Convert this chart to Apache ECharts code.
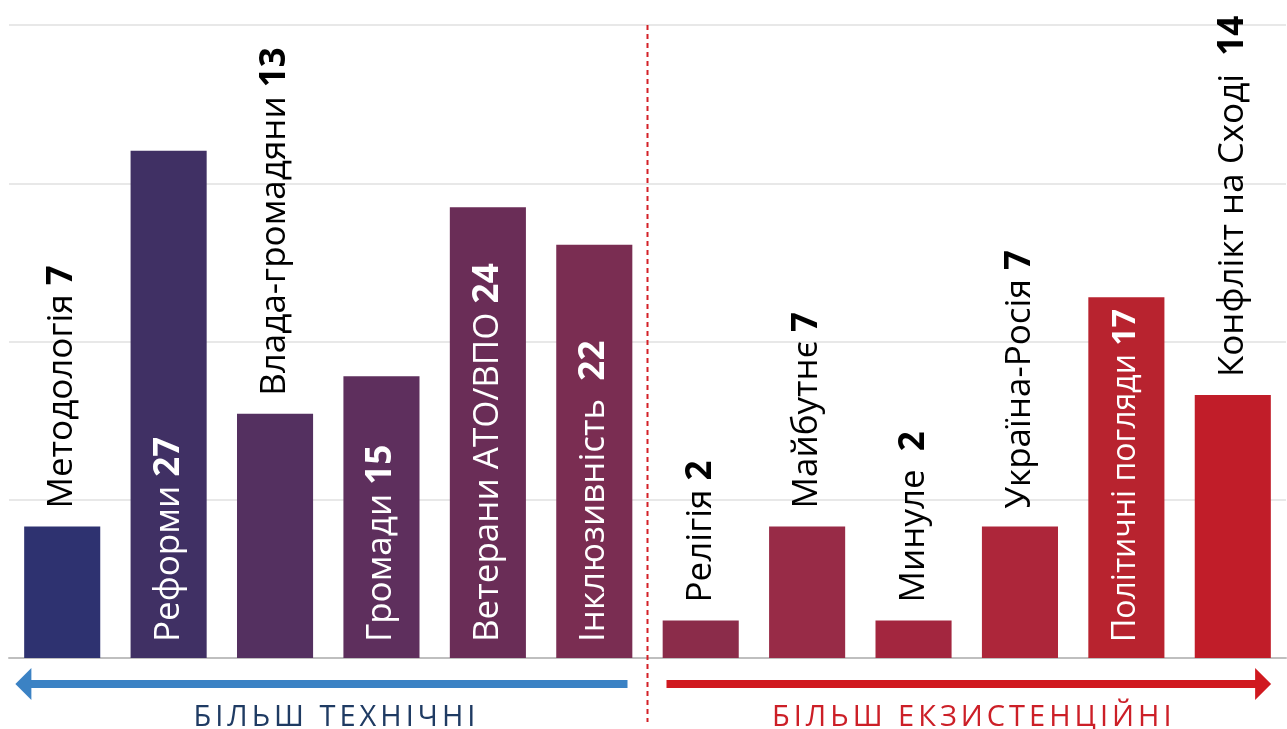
<!DOCTYPE html>
<html>
<head>
<meta charset="utf-8">
<script src="https://cdn.jsdelivr.net/npm/echarts@6/dist/echarts.min.js"></script>
<style>
  html, body { margin: 0; padding: 0; background: #fff; }
  #wrap { position: relative; width: 1287px; height: 729px; }
  #chart { position: absolute; left: 0; top: 0; width: 1287px; height: 729px; }
  .cap { position: absolute; top: 698px; font-family: "Open Sans", sans-serif; font-size: 29px;
         letter-spacing: 4px; white-space: nowrap; transform: translateX(-50%); line-height: 34px; }
</style>
</head>
<body>
<div id="wrap">
  <div id="chart"></div>
  <div class="cap" id="capLeft" style="color:#1f3b63"></div>
  <div class="cap" id="capRight" style="color:#cc1f27"></div>
</div>
<script>
// ---- data ----
const categories = ["Методологія", "Реформи", "Влада-громадяни", "Громади", "Ветерани АТО/ВПО", "Інклюзивність",
                    "Релігія", "Майбутнє", "Минуле", "Україна-Росія", "Політичні погляди", "Конфлікт на Сході"];
const barValues = [7, 27, 13, 15, 24, 22, 2, 7, 2, 7, 19.2, 14];
const shownNumbers = ["7", "27", "13", "15", "24", "22", "2", "7", "2", "7", "17", "14"];
const nameSeparators = [" ", " ", " ", " ", " ", "  ", " ", " ", "  ", " ", " ", "  "];
const groupLabels = ["БІЛЬШ ТЕХНІЧНІ", "БІЛЬШ ЕКЗИСТЕНЦІЙНІ"];
const yTicks = [0, 8.425, 16.85, 25.275, 33.7];

// ---- style ----
const barColors = ["#2e3270", "#403064", "#543060", "#5e2f5d", "#6a2d57", "#7a2d52",
                   "#8b2c4a", "#982b47", "#a3263f", "#ad263a", "#b8232f", "#c11d29"];
const labelInside = [false, true, false, true, true, true, false, false, false, false, true, false];
const labelFontSizes = [35, 35, 35, 35, 35, 35, 35, 35, 35, 35, 32, 35];

document.getElementById('capLeft').textContent = groupLabels[0];
document.getElementById('capRight').textContent = groupLabels[1];

const chart = echarts.init(document.getElementById('chart'), null, { renderer: 'canvas' });

const data = barValues.map((v, i) => {
  const inside = labelInside[i];
  const fs = labelFontSizes[i];
  return {
    value: v,
    itemStyle: { color: barColors[i] },
    label: {
      show: true,
      rotate: 90,
      align: 'left',
      verticalAlign: 'middle',
      position: inside ? 'insideBottom' : 'top',
      distance: inside ? 16 : 18,
      overflow: 'none',
      formatter: '{n|' + categories[i] + nameSeparators[i] + '}{v|' + shownNumbers[i] + '}',
      rich: {
        n: { fontFamily: 'Open Sans', fontSize: fs, color: inside ? '#ffffff' : '#000000', fontWeight: 'normal' },
        v: { fontFamily: 'Open Sans', fontSize: fs, color: inside ? '#ffffff' : '#000000', fontWeight: 'bold' }
      }
    }
  };
});

chart.setOption({
  animation: false,
  grid: { left: 9, right: 1, top: 25, bottom: 71, containLabel: false },
  xAxis: {
    type: 'category',
    data: categories,
    axisLine: { show: true, lineStyle: { color: '#bfbfbf', width: 2 } },
    axisTick: { show: false },
    axisLabel: { show: false }
  },
  yAxis: {
    type: 'value',
    min: yTicks[0],
    max: yTicks[yTicks.length - 1],
    interval: yTicks[1] - yTicks[0],
    axisLine: { show: false },
    axisTick: { show: false },
    axisLabel: { show: false },
    splitLine: { show: true, lineStyle: { color: '#e0e0e0', width: 1.5 } }
  },
  series: [{
    type: 'bar',
    data: data,
    barCategoryGap: '28.5%',
    labelLayout: { hideOverlap: false },
    z: 3
  }]
});

function drawDecor() {
  const p5 = chart.convertToPixel({ xAxisIndex: 0 }, 5);
  const p6 = chart.convertToPixel({ xAxisIndex: 0 }, 6);
  const p0 = chart.convertToPixel({ xAxisIndex: 0 }, 0);
  const p11 = chart.convertToPixel({ xAxisIndex: 0 }, 11);
  const top = chart.convertToPixel({ yAxisIndex: 0 }, yTicks[yTicks.length - 1]);
  const base = chart.convertToPixel({ yAxisIndex: 0 }, 0);
  const mid = (p5 + p6) / 2;
  const step = p6 - p5;
  const ay = base + 26;
  const leftTip = p0 - step * 0.44;
  const rightTip = p11 + step * 0.36;
  const leftEnd = mid - 20;
  const rightStart = mid + 19;
  chart.setOption({
    graphic: [
      { type: 'line', shape: { x1: mid, y1: top, x2: mid, y2: 722 },
        style: { stroke: '#d42027', lineWidth: 2, lineDash: [5, 4] }, z: 10 },
      { type: 'line', shape: { x1: leftTip + 14, y1: ay, x2: leftEnd, y2: ay },
        style: { stroke: '#3b82c4', lineWidth: 8 }, z: 10 },
      { type: 'polygon', shape: { points: [[leftTip, ay], [leftTip + 16, ay - 16], [leftTip + 16, ay + 16]] },
        style: { fill: '#3b82c4' }, z: 10 },
      { type: 'line', shape: { x1: rightStart, y1: ay, x2: rightTip - 14, y2: ay },
        style: { stroke: '#d0191f', lineWidth: 8 }, z: 10 },
      { type: 'polygon', shape: { points: [[rightTip, ay], [rightTip - 16, ay - 16], [rightTip - 16, ay + 16]] },
        style: { fill: '#d0191f' }, z: 10 }
    ]
  });
  document.getElementById('capLeft').style.left = ((leftTip + leftEnd) / 2 + 15) + 'px';
  document.getElementById('capRight').style.left = ((rightStart + rightTip) / 2 + 5) + 'px';
}
drawDecor();
</script>
</body>
</html>
